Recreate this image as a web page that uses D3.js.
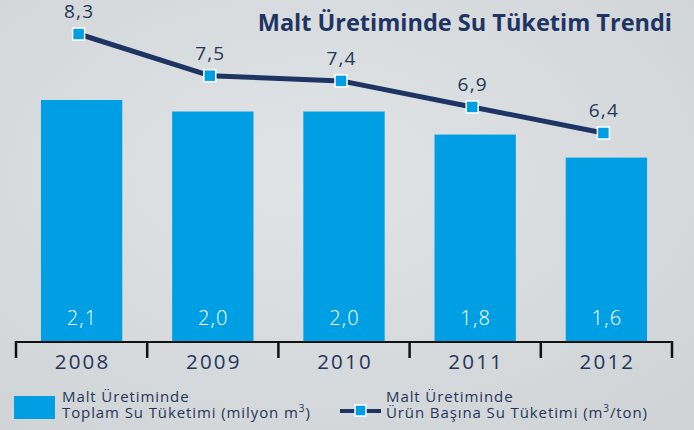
<!DOCTYPE html>
<html>
<head>
<meta charset="utf-8">
<script src="https://cdn.jsdelivr.net/npm/d3@7"></script>
<style>
  html, body { margin: 0; padding: 0; }
  body { width: 694px; height: 430px; overflow: hidden; background: #d8dcdf; }
  svg text { font-family: "Open Sans", Lato, sans-serif; }
</style>
</head>
<body>
<div id="chart"></div>
<script>
  // data
  var years       = ['2008', '2009', '2010', '2011', '2012'];
  var totalWater  = [2.1, 2.0, 2.0, 1.8, 1.6];     // milyon m3 (bars)
  var perProduct  = [8.3, 7.5, 7.4, 6.9, 6.4];     // m3/ton (line)
  var fmt = function (v) { return v.toFixed(1).replace('.', ','); };

  var W = 694, H = 430;
  var BLUE = '#009fe3', NAVY = '#1e3564', TXT = '#243659';
  var baseY = 342;

  var svg = d3.select('#chart').append('svg').attr('width', W).attr('height', H);

  // concrete-ish background
  var defs = svg.append('defs');
  var grad = defs.append('radialGradient').attr('id', 'bg').attr('cx', '45%').attr('cy', '40%').attr('r', '75%');
  grad.append('stop').attr('offset', '0%').attr('stop-color', '#e1e4e6');
  grad.append('stop').attr('offset', '100%').attr('stop-color', '#d0d4d7');
  svg.append('rect').attr('width', W).attr('height', H).attr('fill', 'url(#bg)');

  var x = d3.scaleBand().domain(years).range([16, 672]).paddingInner(0).paddingOuter(0);
  var yBar = d3.scaleLinear().domain([0, 2.1]).range([baseY, 100]);
  var yLine = d3.scaleLinear().domain([6.4, 8.3]).range([133, 34]);
  var barW = x.bandwidth() * 0.62;

  // title
  svg.append('text')
    .attr('x', 672).attr('y', 31)
    .attr('text-anchor', 'end')
    .attr('fill', NAVY)
    .attr('font-size', 23.5).attr('font-weight', 700)
    .text('Malt Üretiminde Su Tüketim Trendi');

  // bars
  svg.append('g').selectAll('rect').data(years).enter().append('rect')
    .attr('x', function (d) { return x(d) + (x.bandwidth() - barW) / 2; })
    .attr('y', function (d, i) { return yBar(totalWater[i]); })
    .attr('width', barW)
    .attr('height', function (d, i) { return baseY - yBar(totalWater[i]); })
    .attr('fill', BLUE);

  svg.append('g').selectAll('text').data(years).enter().append('text')
    .attr('x', function (d) { return x(d) + x.bandwidth() / 2 + 0.5; })
    .attr('y', 325)
    .attr('text-anchor', 'middle')
    .attr('fill', '#ffffff')
    .attr('font-size', 20).attr('font-weight', 300).attr('letter-spacing', 1.2)
    .text(function (d, i) { return fmt(totalWater[i]); });

  // axis
  var axis = d3.axisBottom(x).tickSize(0).tickPadding(0);
  var ax = svg.append('g').attr('transform', 'translate(0,' + baseY + ')').call(axis);
  ax.select('.domain').remove();
  ax.selectAll('text')
    .attr('dy', null).attr('y', 27).attr('dx', 1)
    .attr('fill', TXT).attr('font-size', 20.5).attr('letter-spacing', 2.2)
    .attr('font-family', '"Open Sans", sans-serif');
  var edges = years.map(function (d) { return x(d); }).concat([x.range()[1]]);
  ax.append('line').attr('x1', 16).attr('x2', 672).attr('y1', 0).attr('y2', 0)
    .attr('stroke', '#111').attr('stroke-width', 2);
  ax.selectAll('.edge').data(edges).enter().append('line')
    .attr('x1', function (d) { return d; }).attr('x2', function (d) { return d; })
    .attr('y1', -1).attr('y2', 16)
    .attr('stroke', '#111').attr('stroke-width', 2.5);

  // line series
  var px = function (d, i) { return x(years[i]) + x.bandwidth() / 2 - 3; };
  var line = d3.line().x(px).y(function (d) { return yLine(d); });
  svg.append('path').datum(perProduct)
    .attr('d', line).attr('fill', 'none')
    .attr('stroke', NAVY).attr('stroke-width', 5).attr('stroke-linejoin', 'round');

  var ms = 12;
  svg.append('g').selectAll('rect').data(perProduct).enter().append('rect')
    .attr('x', function (d, i) { return px(d, i) - ms / 2; })
    .attr('y', function (d) { return yLine(d) - ms / 2; })
    .attr('width', ms).attr('height', ms)
    .attr('fill', BLUE).attr('stroke', '#fff').attr('stroke-width', 1.5);

  svg.append('g').selectAll('text').data(perProduct).enter().append('text')
    .attr('x', function (d, i) { return px(d, i) + 0.5; })
    .attr('y', function (d) { return yLine(d) - 16; })
    .attr('text-anchor', 'middle')
    .attr('fill', TXT)
    .attr('font-size', 19).attr('letter-spacing', 1.2)
    .text(function (d) { return fmt(d); });

  // legend
  var lg = svg.append('g').attr('fill', TXT).attr('font-size', 15).attr('letter-spacing', 0.9);
  lg.append('rect').attr('x', 14).attr('y', 396).attr('width', 41).attr('height', 23).attr('fill', BLUE);
  lg.append('text').attr('x', 62).attr('y', 402).text('Malt Üretiminde');
  var t1 = lg.append('text').attr('x', 62).attr('y', 418);
  t1.append('tspan').text('Toplam Su Tüketimi (milyon m');
  t1.append('tspan').attr('font-size', 10).attr('dy', -6).text('3');
  t1.append('tspan').attr('dy', 6).text(')');

  lg.append('line').attr('x1', 340).attr('x2', 381).attr('y1', 411).attr('y2', 411)
    .attr('stroke', NAVY).attr('stroke-width', 4);
  lg.append('rect').attr('x', 355).attr('y', 405).attr('width', 11).attr('height', 11)
    .attr('fill', BLUE).attr('stroke', '#fff').attr('stroke-width', 1.5);
  lg.append('text').attr('x', 386).attr('y', 402).text('Malt Üretiminde');
  var t2 = lg.append('text').attr('x', 386).attr('y', 418);
  t2.append('tspan').text('Ürün Başına Su Tüketimi (m');
  t2.append('tspan').attr('font-size', 10).attr('dy', -6).text('3');
  t2.append('tspan').attr('dy', 6).text('/ton)');
</script>
</body>
</html>
